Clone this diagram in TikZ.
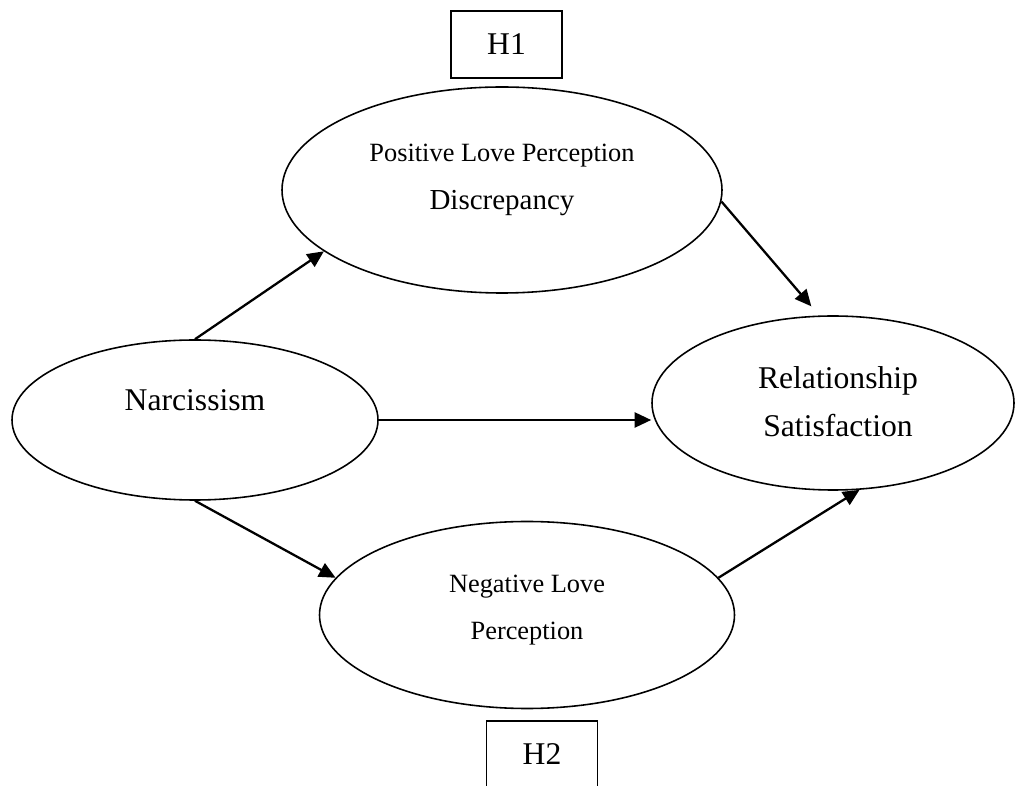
\documentclass[tikz,border=0pt]{standalone}
\usepackage{fontspec}
\setmainfont{Liberation Serif}
\usetikzlibrary{shapes.geometric, arrows.meta}

\tikzset{
  oval/.style={draw, ellipse, inner sep=0pt, line width=0.9pt},
  hypbox/.style={draw, rectangle, minimum width=2.22cm, minimum height=1.34cm, inner sep=0pt, line width=0.9pt, font=\fontsize{18}{22}\selectfont},
  arr/.style={line width=1.3pt, -{Triangle[length=0.33cm, width=0.3cm]}},
}

\begin{document}
\begin{tikzpicture}
\useasboundingbox (0,0) rectangle (20.32,15.70);
\coordinate (p) at (10.04,11.90);
\coordinate (n) at (3.90,7.30);
\coordinate (r) at (16.66,7.64);
\coordinate (g) at (10.54,3.40);

\node[oval, minimum width=8.8cm, minimum height=4.12cm] (pos) at (p) {};
\node[oval, minimum width=7.32cm, minimum height=3.2cm] (narc) at (n) {};
\node[oval, minimum width=7.24cm, minimum height=3.48cm] (rel) at (r) {};
\node[oval, minimum width=8.3cm, minimum height=3.74cm] (neg) at (g) {};

\node[align=center, font=\fontsize{15}{27}\selectfont] (postext) at (10.04,12.10) {Positive Love Perception\\ {\fontsize{16.5}{27}\selectfont Discrepancy}};
\node[font=\fontsize{18}{27}\selectfont] (narctext) at (3.90,7.70) {Narcissism};
\node[align=center, font=\fontsize{18}{27}\selectfont] (reltext) at (16.76,7.67) {Relationship\\ Satisfaction};
\node[align=center, font=\fontsize{15}{27}\selectfont] (negtext) at (10.54,3.50) {Negative Love\\ Perception};

\node[hypbox] (h1) at (10.13,14.81) {H1};
\node[hypbox] (h2) at (10.84,0.61) {H2};

\draw[arr] (narc.north) -- (pos.199);
\draw[arr, shorten >=0.24cm] (pos.-3) -- (rel.99);
\draw[arr] (narc.east) -- (narc.east -| rel.west);
\draw[arr] (narc.south) -- (neg.169);
\draw[arr] (neg.11) -- (rel.-73);
\end{tikzpicture}
\end{document}
